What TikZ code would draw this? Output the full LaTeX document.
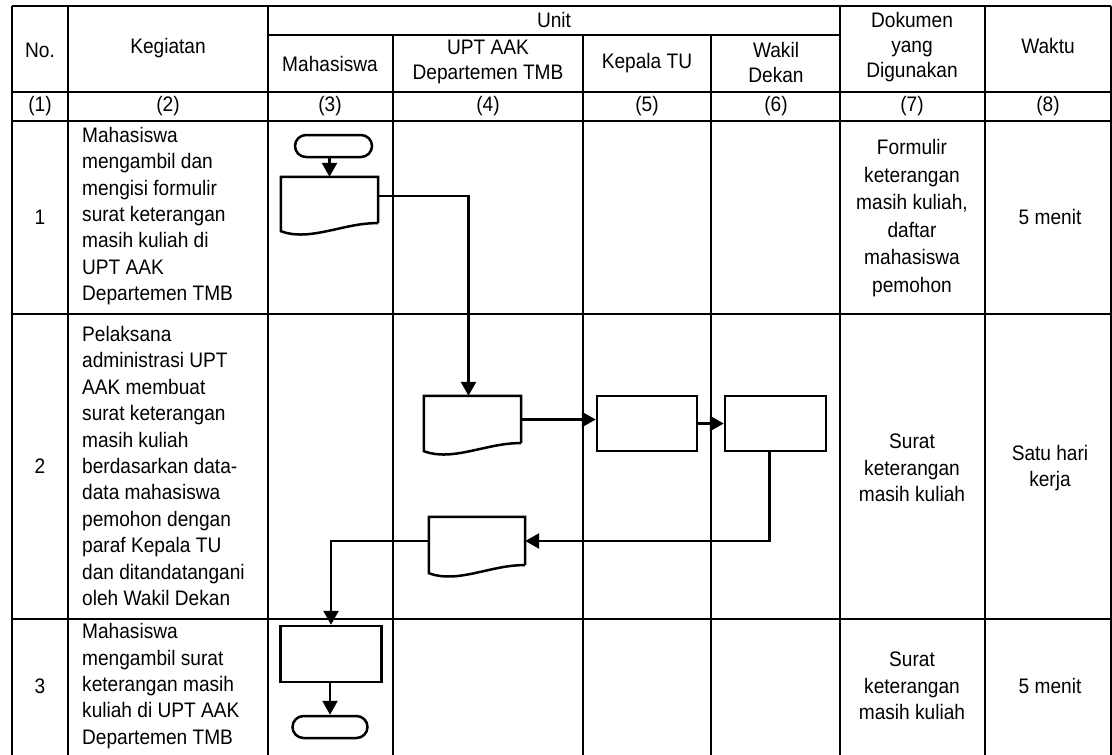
\documentclass[tikz,border=0pt]{standalone}
\usepackage{fontspec}
\setmainfont{Liberation Sans}[FakeStretch=0.91]
\usetikzlibrary{arrows.meta,calc}
\newcommand\docoutline[1]{\draw[line width=2.5pt] (#1.south east) -- (#1.north east) -- (#1.north west) -- ($(#1.south west)+(0,8)$) .. controls ($(#1.south west)+(29,19)$) and ($(#1.south east)+(-33,-1)$) .. (#1.south east);}
\begin{document}
\begin{tikzpicture}[x=1pt,y=-1pt,
 grid/.style={line width=1.6pt},
 thickgrid/.style={line width=2.3pt},
 txt/.style={font=\fontsize{21}{26.4}\selectfont, align=center, inner sep=0pt},
 ltxt/.style={font=\fontsize{21}{26.4}\selectfont, align=left, anchor=west, inner sep=0pt},
 htxt/.style={font=\fontsize{21}{25}\selectfont, align=center, inner sep=0pt},
 term/.style={draw, line width=2.5pt, rounded corners=11pt, minimum width=77pt, minimum height=22pt, inner sep=0pt},
 proc/.style={draw, line width=2.5pt, minimum width=100pt, minimum height=55pt, inner sep=0pt},
 docbox/.style={minimum width=97pt, minimum height=46pt, inner sep=0pt},
 flow/.style={line width=2.6pt, -{Triangle[length=14pt,width=15pt]}}
]
\useasboundingbox (0,0) rectangle (1112,755);
% ---- grid ----
\foreach \y in {6,121,314,619} \draw[grid] (12,\y) -- (1111,\y);
\draw[thickgrid] (12,92) -- (1111,92);
\draw[grid] (268,35) -- (840,35);
\foreach \x in {12,68,268,840,985,1111} \draw[grid] (\x,6) -- (\x,755);
\foreach \x in {393,583,711} \draw[grid] (\x,35) -- (\x,755);
% ---- header ----
\node[htxt] (hno) at (40,50) {No.};
\node[htxt] (hkeg) at (168,48) {Kegiatan};
\node[htxt] (hunit) at (554,20) {Unit};
\node[htxt] (hmhs) at (330,64) {Mahasiswa};
\node[htxt] (hupt) at (488,62) {UPT AAK\\Departemen TMB};
\node[htxt] (hkep) at (647,63) {Kepala TU};
\node[htxt] (hwak) at (776,62) {Wakil\\Dekan};
\node[htxt] (hdok) at (912,47) {Dokumen\\yang\\Digunakan};
\node[htxt] (hwkt) at (1048,46) {Waktu};
\node[htxt] (n1) at (40,106) {(1)};
\node[htxt] (n2) at (168,106) {(2)};
\node[htxt] (n3) at (330,106) {(3)};
\node[htxt] (n4) at (488,106) {(4)};
\node[htxt] (n5) at (647,106) {(5)};
\node[htxt] (n6) at (776,106) {(6)};
\node[htxt] (n7) at (912,106) {(7)};
\node[htxt] (n8) at (1048,106) {(8)};
% ---- row 1 ----
\node[txt] (r1no) at (40,217) {1};
\node[ltxt] (r1keg) at (82,216) {Mahasiswa\\mengambil dan\\mengisi formulir\\surat keterangan\\masih kuliah di\\UPT AAK\\Departemen TMB};
\node[txt, font=\fontsize{21}{27.6}\selectfont] (r1dok) at (912,218) {Formulir\\keterangan\\masih kuliah,\\daftar\\mahasiswa\\pemohon};
\node[txt] (r1wkt) at (1050,217) {5 menit};
% ---- row 2 ----
\node[txt] (r2no) at (40,466) {2};
\node[ltxt] (r2keg) at (82,466) {Pelaksana\\administrasi UPT\\AAK membuat\\surat keterangan\\masih kuliah\\berdasarkan data-\\data mahasiswa\\pemohon dengan\\paraf Kepala TU\\dan ditandatangani\\oleh Wakil Dekan};
\node[txt] (r2dok) at (912,468) {Surat\\keterangan\\masih kuliah};
\node[txt] (r2wkt) at (1050,468) {Satu hari\\kerja};
% ---- row 3 ----
\node[txt] (r3no) at (40,686) {3};
\node[ltxt] (r3keg) at (82,686) {Mahasiswa\\mengambil surat\\keterangan masih\\kuliah di UPT AAK\\Departemen TMB};
\node[txt] (r3dok) at (912,686) {Surat\\keterangan\\masih kuliah};
\node[txt] (r3wkt) at (1050,686) {5 menit};
% ---- flowchart ----
\node[term] (start) at (333.5,146) {};
\node[docbox] (d1) at (329.5,200) {};
\docoutline{d1}
\node[docbox, minimum height=47pt] (d2) at (472.5,419.5) {};
\docoutline{d2}
\node[proc] (pa) at (647,423.5) {};
\node[proc, minimum width=101pt] (pb) at (775.5,423.5) {};
\node[docbox, minimum width=96pt, minimum height=48pt] (d3) at (477,541) {};
\docoutline{d3}
\node[proc, minimum width=101pt, minimum height=56pt] (pc) at (331,654) {};
\node[term, minimum width=75pt] (stop) at (330,727) {};
\draw[flow] (start.south -| d1.north) -- (d1.north);
\draw[flow] ([yshift=4pt]d1.east) -| ([xshift=-4pt]d2.north);
\draw[flow] (d2.east) -- (d2.east -| pa.west);
\draw[flow] (pa.east) -- (pa.east -| pb.west);
\draw[flow] ([xshift=-6pt]pb.south) |- (d3.east);
\draw[flow] (d3.west) -| (pc.north);
\draw[flow] (pc.south -| stop.north) -- (stop.north);
\end{tikzpicture}
\end{document}
